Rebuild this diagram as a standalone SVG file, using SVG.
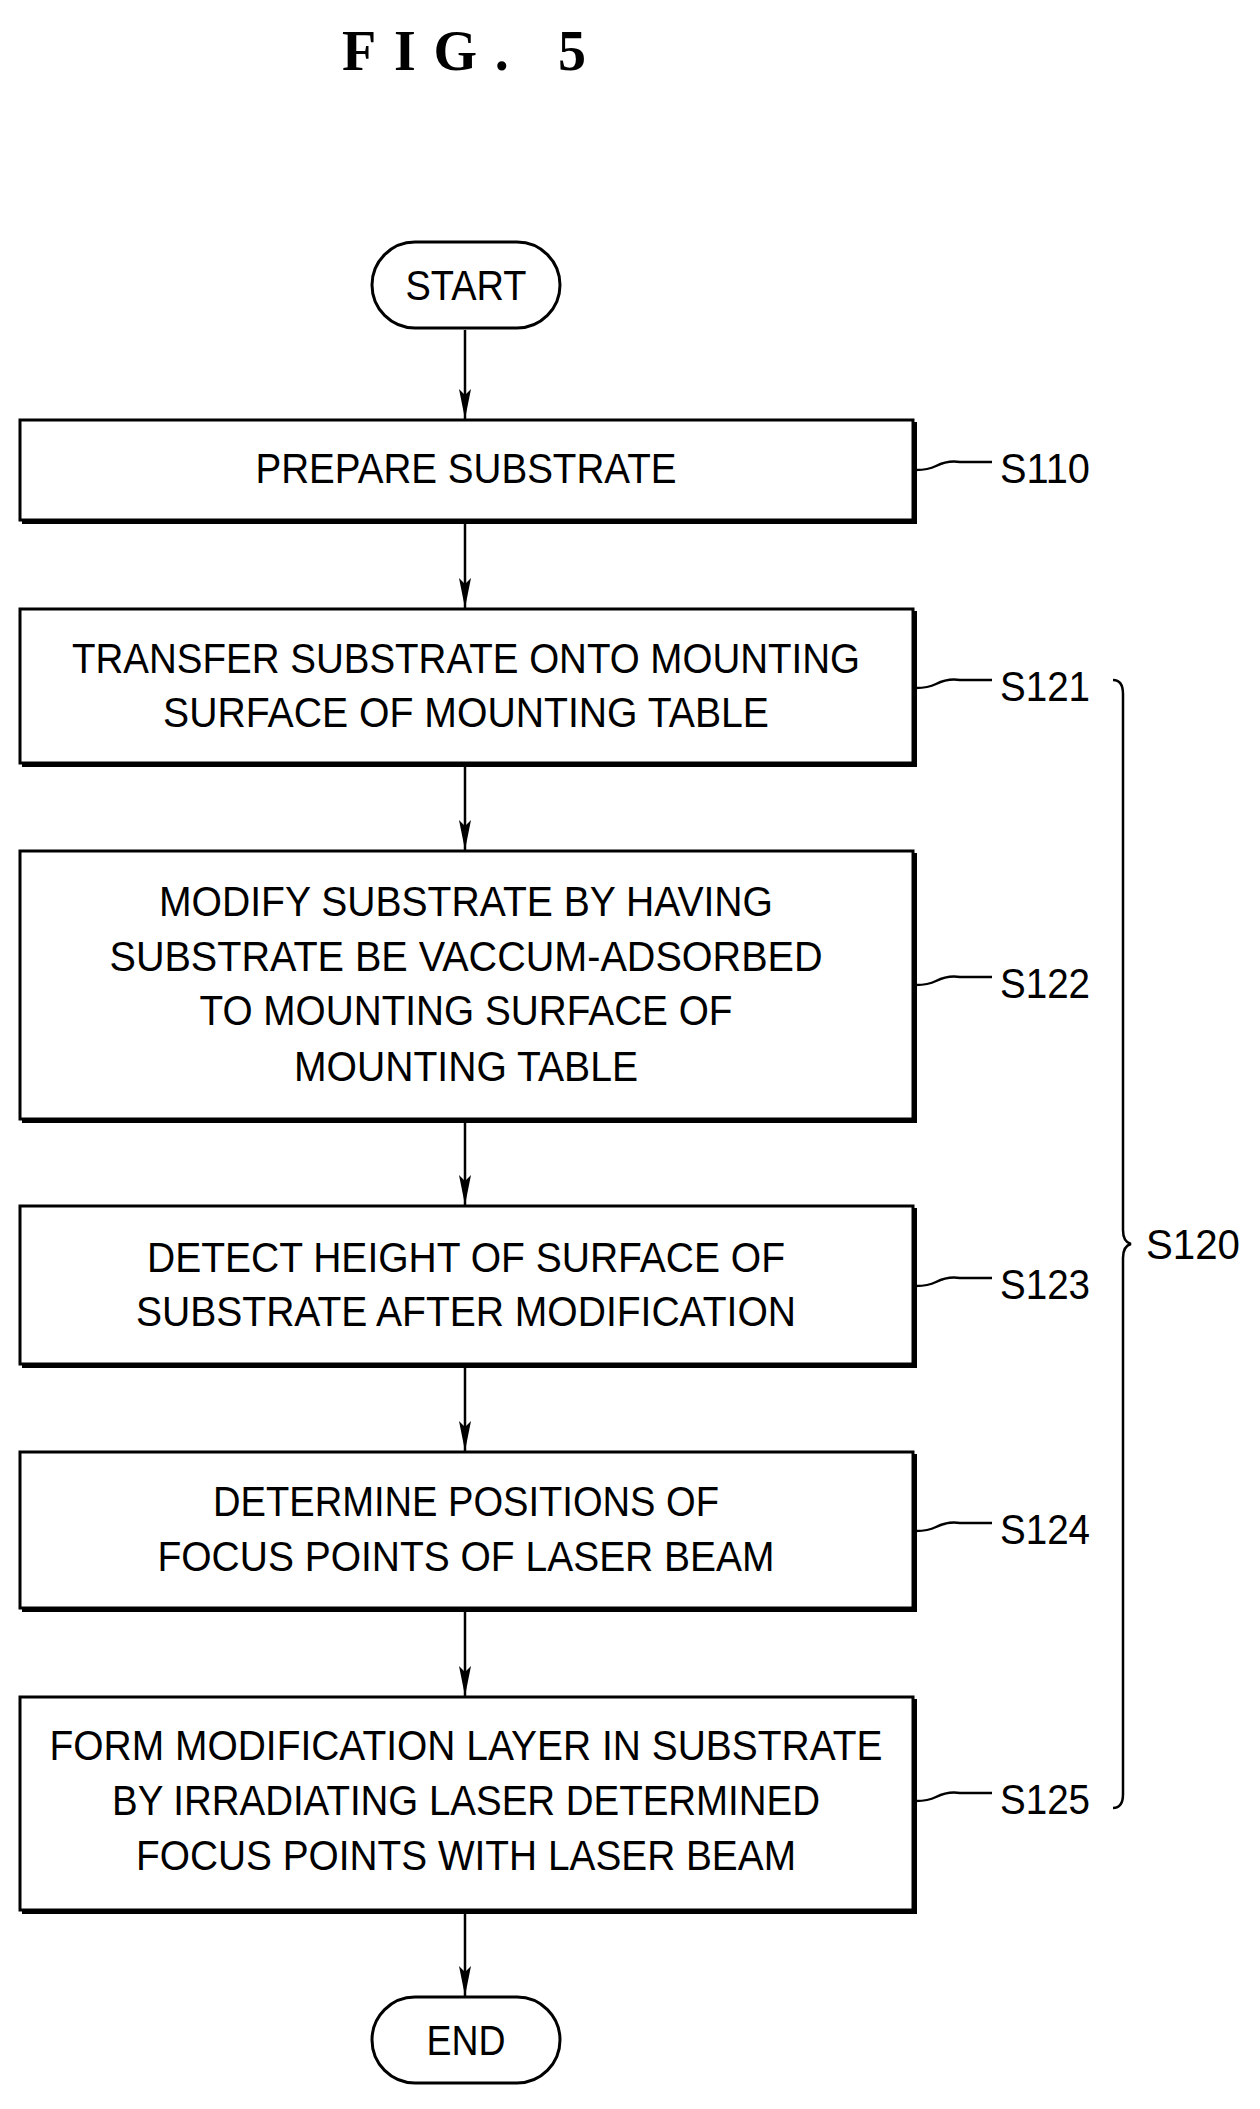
<svg xmlns="http://www.w3.org/2000/svg" width="1260" height="2109" viewBox="0 0 1260 2109">
<defs>
<style>
.b{fill:#fff;stroke:#000;stroke-width:3}
.sh{fill:none;stroke:#000;stroke-width:4}
text{font-family:"Liberation Sans",Arial,sans-serif;font-size:42px;fill:#000}
.c{text-anchor:middle}
.ln{fill:none;stroke:#000;stroke-width:2.5}
</style>
<marker id="ar" markerWidth="32" markerHeight="12" refX="30" refY="6" orient="auto" markerUnits="userSpaceOnUse" viewBox="0 0 32 12"><path d="M0,0 L30,6 L0,12 L6,6 Z" fill="#000"/></marker>
</defs>
<rect width="1260" height="2109" fill="#fff"/>
<text x="466" y="70" class="c" style="font-family:'Liberation Serif',serif;font-weight:bold;font-size:56px;letter-spacing:4px" textLength="248" lengthAdjust="spacing">FIG. 5</text>
<g id="connectors">
<line class="ln" x1="465" y1="330" x2="465" y2="419" marker-end="url(#ar)"/>
<line class="ln" x1="465" y1="523" x2="465" y2="608" marker-end="url(#ar)"/>
<line class="ln" x1="465" y1="766" x2="465" y2="850" marker-end="url(#ar)"/>
<line class="ln" x1="465" y1="1122" x2="465" y2="1205" marker-end="url(#ar)"/>
<line class="ln" x1="465" y1="1367" x2="465" y2="1451" marker-end="url(#ar)"/>
<line class="ln" x1="465" y1="1610" x2="465" y2="1696" marker-end="url(#ar)"/>
<line class="ln" x1="465" y1="1912" x2="465" y2="1996" marker-end="url(#ar)"/>
<path class="ln" d="M916,470 q12,0 20,-4 q12,-6 24,-4 h32"/>
<path class="ln" d="M916,688 q12,0 20,-4 q12,-6 24,-4 h32"/>
<path class="ln" d="M916,985 q12,0 20,-4 q12,-6 24,-4 h32"/>
<path class="ln" d="M916,1286 q12,0 20,-4 q12,-6 24,-4 h32"/>
<path class="ln" d="M916,1531 q12,0 20,-4 q12,-6 24,-4 h32"/>
<path class="ln" d="M916,1801 q12,0 20,-4 q12,-6 24,-4 h32"/>
<path class="ln" d="M1113,680 q10,0 10,14 V1230 q0,12 8,14 q-8,2 -8,14 V1794 q0,14 -10,14"/>
</g>
<g id="start"><rect class="b" x="372" y="242" width="188" height="86" rx="43"/><text x="466" y="300" class="c" textLength="121" lengthAdjust="spacingAndGlyphs">START</text></g>
<g id="s110"><rect class="b" x="20" y="420" width="893" height="100"/><polyline class="sh" points="915,422 915,522 22,522"/><text x="466" y="483" class="c" textLength="421" lengthAdjust="spacingAndGlyphs">PREPARE SUBSTRATE</text><text x="1000" y="483" textLength="90" lengthAdjust="spacingAndGlyphs">S110</text></g>
<g id="s121"><rect class="b" x="20" y="609" width="893" height="154"/><polyline class="sh" points="915,611 915,765 22,765"/><text x="466" y="673" class="c" textLength="788" lengthAdjust="spacingAndGlyphs">TRANSFER SUBSTRATE ONTO MOUNTING</text><text x="466" y="727" class="c" textLength="606" lengthAdjust="spacingAndGlyphs">SURFACE OF MOUNTING TABLE</text><text x="1000" y="701" textLength="90" lengthAdjust="spacingAndGlyphs">S121</text></g>
<g id="s122"><rect class="b" x="20" y="851" width="893" height="268"/><polyline class="sh" points="915,853 915,1121 22,1121"/><text x="466" y="916" class="c" textLength="614" lengthAdjust="spacingAndGlyphs">MODIFY SUBSTRATE BY HAVING</text><text x="466" y="971" class="c" textLength="713" lengthAdjust="spacingAndGlyphs">SUBSTRATE BE VACCUM-ADSORBED</text><text x="466" y="1025" class="c" textLength="533" lengthAdjust="spacingAndGlyphs">TO MOUNTING SURFACE OF</text><text x="466" y="1081" class="c" textLength="344" lengthAdjust="spacingAndGlyphs">MOUNTING TABLE</text><text x="1000" y="998" textLength="90" lengthAdjust="spacingAndGlyphs">S122</text></g>
<g id="s123"><rect class="b" x="20" y="1206" width="893" height="158"/><polyline class="sh" points="915,1208 915,1366 22,1366"/><text x="466" y="1272" class="c" textLength="638" lengthAdjust="spacingAndGlyphs">DETECT HEIGHT OF SURFACE OF</text><text x="466" y="1326" class="c" textLength="660" lengthAdjust="spacingAndGlyphs">SUBSTRATE AFTER MODIFICATION</text><text x="1000" y="1299" textLength="90" lengthAdjust="spacingAndGlyphs">S123</text></g>
<g id="s124"><rect class="b" x="20" y="1452" width="893" height="156"/><polyline class="sh" points="915,1454 915,1610 22,1610"/><text x="466" y="1516" class="c" textLength="506" lengthAdjust="spacingAndGlyphs">DETERMINE POSITIONS OF</text><text x="466" y="1571" class="c" textLength="617" lengthAdjust="spacingAndGlyphs">FOCUS POINTS OF LASER BEAM</text><text x="1000" y="1544" textLength="90" lengthAdjust="spacingAndGlyphs">S124</text></g>
<g id="s125"><rect class="b" x="20" y="1697" width="893" height="213"/><polyline class="sh" points="915,1699 915,1912 22,1912"/><text x="466" y="1760" class="c" textLength="833" lengthAdjust="spacingAndGlyphs">FORM MODIFICATION LAYER IN SUBSTRATE</text><text x="466" y="1815" class="c" textLength="708" lengthAdjust="spacingAndGlyphs">BY IRRADIATING LASER DETERMINED</text><text x="466" y="1870" class="c" textLength="660" lengthAdjust="spacingAndGlyphs">FOCUS POINTS WITH LASER BEAM</text><text x="1000" y="1814" textLength="90" lengthAdjust="spacingAndGlyphs">S125</text></g>
<g id="s120"><text x="1146" y="1259" textLength="94" lengthAdjust="spacingAndGlyphs">S120</text></g>
<g id="end"><rect class="b" x="372" y="1997" width="188" height="86" rx="43"/><text x="466" y="2055" class="c" textLength="79" lengthAdjust="spacingAndGlyphs">END</text></g>
</svg>
